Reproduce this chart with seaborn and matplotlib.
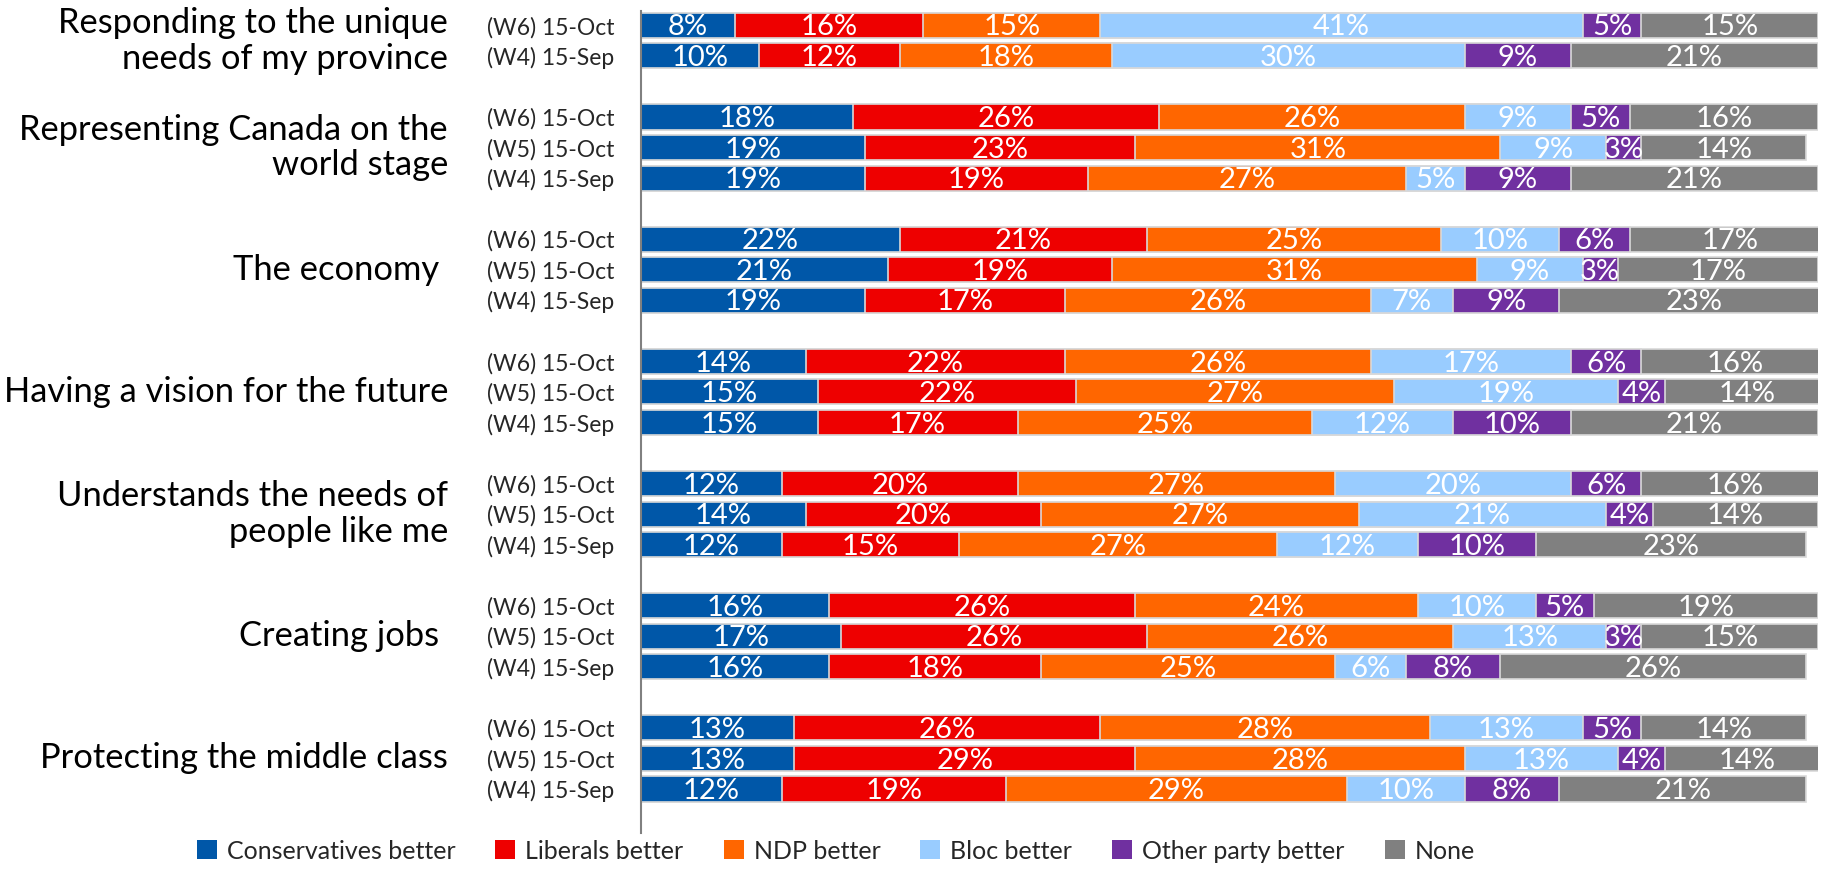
import matplotlib
matplotlib.use("Agg")
import matplotlib.pyplot as plt
import seaborn as sns
import pandas as pd
import numpy as np
from matplotlib.patches import Patch

# ---------------- data ----------------
categories = [
    "Responding to the unique\nneeds of my province",
    "Representing Canada on the\nworld stage",
    "The economy ",
    "Having a vision for the future",
    "Understands the needs of\npeople like me",
    "Creating jobs ",
    "Protecting the middle class",
]
waves_per_category = [
    ["(W6) 15-Oct", "(W4) 15-Sep"],
    ["(W6) 15-Oct", "(W5) 15-Oct", "(W4) 15-Sep"],
    ["(W6) 15-Oct", "(W5) 15-Oct", "(W4) 15-Sep"],
    ["(W6) 15-Oct", "(W5) 15-Oct", "(W4) 15-Sep"],
    ["(W6) 15-Oct", "(W5) 15-Oct", "(W4) 15-Sep"],
    ["(W6) 15-Oct", "(W5) 15-Oct", "(W4) 15-Sep"],
    ["(W6) 15-Oct", "(W5) 15-Oct", "(W4) 15-Sep"],
]
series_names = ["Conservatives better", "Liberals better", "NDP better",
                "Bloc better", "Other party better", "None"]

conservatives = [8, 10, 18, 19, 19, 22, 21, 19, 14, 15, 15, 12, 14, 12, 16, 17, 16, 13, 13, 12]
liberals      = [16, 12, 26, 23, 19, 21, 19, 17, 22, 22, 17, 20, 20, 15, 26, 26, 18, 26, 29, 19]
ndp           = [15, 18, 26, 31, 27, 25, 31, 26, 26, 27, 25, 27, 27, 27, 24, 26, 25, 28, 28, 29]
bloc          = [41, 30, 9, 9, 5, 10, 9, 7, 17, 19, 12, 20, 21, 12, 10, 13, 6, 13, 13, 10]
other         = [5, 9, 5, 3, 9, 6, 3, 9, 6, 4, 10, 6, 4, 10, 5, 3, 8, 5, 4, 8]
none          = [15, 21, 16, 14, 21, 17, 17, 23, 16, 14, 21, 16, 14, 23, 19, 15, 26, 14, 14, 21]

colors = ["#0057A8", "#EE0000", "#FF6600", "#99CCFF", "#7030A0", "#808080"]

# ---------------- layout of rows ----------------
positions, tick_labels, group_centers = [], [], []
for k, waves in enumerate(waves_per_category):
    if k == 0:
        rows = [1, 2]
    else:
        rows = [4 * k, 4 * k + 1, 4 * k + 2]
    positions += rows
    tick_labels += waves
    group_centers.append(np.mean(rows))

series = [conservatives, liberals, ndp, bloc, other, none]
df = pd.DataFrame({"pos": positions})
cum = np.zeros(len(positions))
cum_cols = []
for name, vals in zip(series_names, series):
    cum = cum + np.array(vals)
    df[name + "_cum"] = cum
    cum_cols.append(name + "_cum")

# ---------------- plotting ----------------
sns.set_theme(style="white")
plt.rcParams["font.family"] = ["Lato", "DejaVu Sans"]

fig = plt.figure(figsize=(18.25, 8.72), dpi=100)
ax = fig.add_axes([641 / 1825, 1 - 833 / 872, (1818 - 641) / 1825, (833 - 11) / 872])

for col, color in reversed(list(zip(cum_cols, colors))):
    sns.barplot(data=df, x=col, y="pos", orient="h", native_scale=True,
                color=color, width=0.82, edgecolor="#D9D9D9", linewidth=1.2,
                saturation=1, ax=ax, errorbar=None)

# value labels
for i, p in enumerate(positions):
    left = 0
    for vals in series:
        v = vals[i]
        ax.text(left + v / 2, p + 0.07, f"{v}%", ha="center", va="center",
                color="white", fontsize=21, clip_on=False)
        left += v

ax.set_xlim(0, 100)
ax.set_ylim(27.44, 0.53)
ax.set_yticks(positions)
ax.set_yticklabels(tick_labels, fontsize=16.5)
ax.tick_params(axis="y", length=0, pad=19)
ax.set_xticks([])
ax.set_xlabel("")
ax.set_ylabel("")
for s in ["top", "right", "bottom"]:
    ax.spines[s].set_visible(False)
ax.spines["left"].set_color("#808080")
ax.spines["left"].set_linewidth(1.5)

for cat, gc in zip(categories, group_centers):
    ax.annotate(cat, xy=(448 / 1825, gc), xycoords=("figure fraction", "data"),
                ha="right", va="center", fontsize=24.8, linespacing=1.15,
                color="black", multialignment="right")

handles = [Patch(facecolor=c, edgecolor="none") for c in colors]
fig.legend(handles, series_names, loc="center", bbox_to_anchor=(0.458, 1 - 851 / 872),
           ncol=6, frameon=False, fontsize=18, handlelength=0.8, handleheight=0.8,
           handletextpad=0.4, columnspacing=1.6, borderaxespad=0, borderpad=0)

fig.savefig("out.png", dpi=100)
